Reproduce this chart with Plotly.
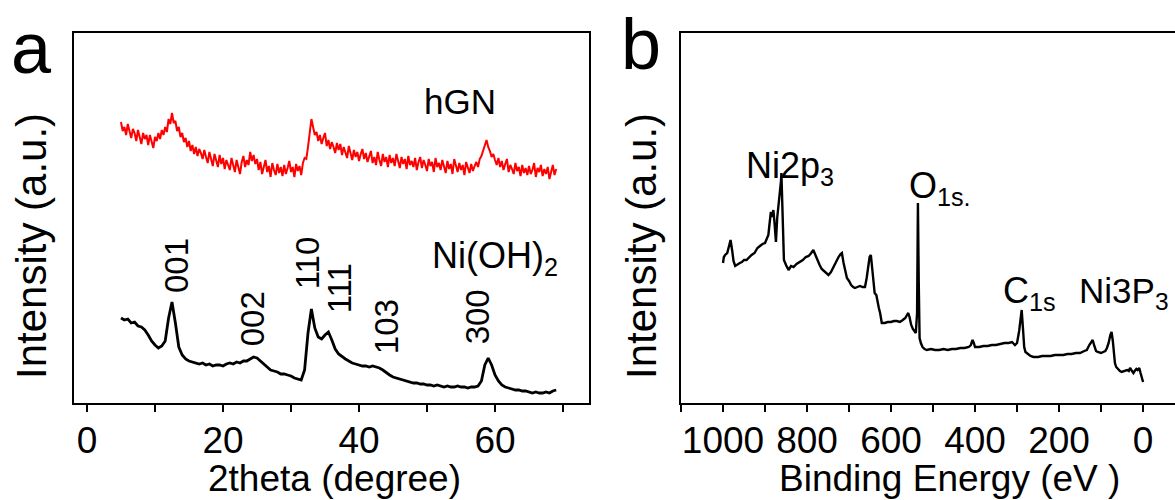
import plotly.graph_objects as go

# ---------------- Panel a: XRD ----------------
two_theta_ni = [5.0, 5.5, 6.0, 6.5, 7.0, 7.5, 8.0, 8.5, 9.0, 9.5, 10.0, 10.5, 11.0, 11.5, 12.0, 12.5,
                13.0, 13.5, 14.0, 14.5, 15.0, 15.5, 16.0, 16.5, 17.0, 17.5, 18.0, 18.5, 19.0, 19.5,
                20.0, 20.5, 21.0, 21.5, 22.0, 22.5, 23.0, 23.5, 24.0, 24.5, 25.0, 25.5, 26.0, 26.5,
                27.0, 27.5, 28.0, 28.5, 29.0, 29.5, 30.0, 30.5, 31.0, 31.5, 32.0, 32.5, 33.0, 33.5,
                34.0, 34.5, 35.0, 35.5, 36.0, 36.5, 37.0, 37.5, 38.0, 38.5, 39.0, 39.5, 40.0, 40.5,
                41.0, 41.5, 42.0, 42.5, 43.0, 43.5, 44.0, 44.5, 45.0, 45.5, 46.0, 46.5, 47.0, 47.5,
                48.0, 48.5, 49.0, 49.5, 50.0, 50.5, 51.0, 51.5, 52.0, 52.5, 53.0, 53.5, 54.0, 54.5,
                55.0, 55.5, 56.0, 56.5, 57.0, 57.5, 58.0, 58.5, 59.0, 59.5, 60.0, 60.5, 61.0, 61.5,
                62.0, 62.5, 63.0, 63.5, 64.0, 64.5, 65.0, 65.5, 66.0, 66.5, 67.0, 67.5, 68.0, 68.5, 69.0]

ni_oh2 = [85, 83, 84, 80, 81, 77, 76, 73, 68, 62, 58, 55, 57, 62, 85, 101,
          80, 56, 48, 44, 42, 41, 40, 39, 40, 38, 39, 37, 38, 38,
          37, 39, 40, 39, 41, 40, 42, 42, 44, 46, 45, 42, 38, 35,
          33, 32, 31, 29, 29, 28, 27, 25, 24, 23, 33, 70, 94, 75,
          66, 64, 68, 71, 63, 54, 49, 46, 44, 42, 40, 39, 38, 37,
          37, 36, 37, 36, 35, 33, 30, 28, 26, 25, 24, 23, 22, 21,
          20, 20, 19, 19, 18, 18, 17, 18, 17, 16, 17, 16, 16, 17,
          16, 16, 15, 16, 16, 17, 22, 38, 45, 38, 28, 22, 18, 16,
          15, 14, 13, 13, 12, 12, 11, 10, 11, 10, 10, 11, 10, 12, 13]

two_theta_hgn = [
    5.0, 5.25, 5.5, 5.75, 6.0, 6.25, 6.5, 6.75, 7.0, 7.25, 7.5, 7.75, 8.0, 8.25, 8.5, 8.75,
    9.0, 9.25, 9.5, 9.75, 10.0, 10.25, 10.5, 10.75, 11.0, 11.25, 11.5, 11.75, 12.0, 12.25, 12.5, 12.75,
    13.0, 13.25, 13.5, 13.75, 14.0, 14.25, 14.5, 14.75, 15.0, 15.25, 15.5, 15.75, 16.0, 16.25, 16.5, 16.75,
    17.0, 17.25, 17.5, 17.75, 18.0, 18.25, 18.5, 18.75, 19.0, 19.25, 19.5, 19.75, 20.0, 20.25, 20.5, 20.75,
    21.0, 21.25, 21.5, 21.75, 22.0, 22.25, 22.5, 22.75, 23.0, 23.25, 23.5, 23.75, 24.0, 24.25, 24.5, 24.75,
    25.0, 25.25, 25.5, 25.75, 26.0, 26.25, 26.5, 26.75, 27.0, 27.25, 27.5, 27.75, 28.0, 28.25, 28.5, 28.75,
    29.0, 29.25, 29.5, 29.75, 30.0, 30.25, 30.5, 30.75, 31.0, 31.25, 31.5, 31.75, 32.0, 32.25, 32.5, 32.75,
    33.0, 33.25, 33.5, 33.75, 34.0, 34.25, 34.5, 34.75, 35.0, 35.25, 35.5, 35.75, 36.0, 36.25, 36.5, 36.75,
    37.0, 37.25, 37.5, 37.75, 38.0, 38.25, 38.5, 38.75, 39.0, 39.25, 39.5, 39.75, 40.0, 40.25, 40.5, 40.75,
    41.0, 41.25, 41.5, 41.75, 42.0, 42.25, 42.5, 42.75, 43.0, 43.25, 43.5, 43.75, 44.0, 44.25, 44.5, 44.75,
    45.0, 45.25, 45.5, 45.75, 46.0, 46.25, 46.5, 46.75, 47.0, 47.25, 47.5, 47.75, 48.0, 48.25, 48.5, 48.75,
    49.0, 49.25, 49.5, 49.75, 50.0, 50.25, 50.5, 50.75, 51.0, 51.25, 51.5, 51.75, 52.0, 52.25, 52.5, 52.75,
    53.0, 53.25, 53.5, 53.75, 54.0, 54.25, 54.5, 54.75, 55.0, 55.25, 55.5, 55.75, 56.0, 56.25, 56.5, 56.75,
    57.0, 57.25, 57.5, 57.75, 58.0, 58.25, 58.5, 58.75, 59.0, 59.25, 59.5, 59.75, 60.0, 60.25, 60.5, 60.75,
    61.0, 61.25, 61.5, 61.75, 62.0, 62.25, 62.5, 62.75, 63.0, 63.25, 63.5, 63.75, 64.0, 64.25, 64.5, 64.75,
    65.0, 65.25, 65.5, 65.75, 66.0, 66.25, 66.5, 66.75, 67.0, 67.25, 67.5, 67.75, 68.0, 68.25, 68.5, 68.75,
    69.0]

hgn = [
    281, 272, 276, 268, 279, 271, 265, 274, 270, 262, 273, 266, 259, 270, 264, 268,
    258, 268, 261, 255, 266, 262, 270, 264, 273, 268, 276, 271, 284, 279, 290, 280,
    282, 272, 276, 266, 270, 261, 265, 256, 262, 252, 258, 249, 256, 247, 254, 250,
    244, 253, 246, 240, 251, 243, 237, 249, 241, 236, 248, 239, 245, 234, 243, 238,
    233, 245, 237, 231, 243, 236, 229, 241, 247, 236, 243, 238, 251, 242, 248, 239,
    244, 233, 241, 229, 238, 243, 231, 237, 226, 240, 233, 228, 239, 230, 236, 227,
    238, 229, 235, 242, 231, 236, 226, 239, 232, 237, 228, 240, 245, 244, 256, 272,
    284, 276, 268, 271, 262, 268, 259, 265, 270, 257, 263, 254, 261, 256, 250, 260,
    253, 259, 248, 256, 251, 245, 257, 249, 243, 253, 246, 251, 242, 249, 254, 244,
    250, 241, 247, 252, 240, 246, 238, 251, 243, 237, 249, 241, 246, 236, 248, 240,
    245, 237, 249, 240, 235, 246, 239, 244, 234, 247, 238, 242, 236, 245, 233, 241,
    246, 235, 243, 238, 232, 244, 237, 241, 231, 245, 236, 240, 233, 243, 236, 230,
    242, 234, 239, 229, 244, 236, 231, 240, 233, 238, 228, 241, 234, 230, 239, 232,
    237, 241, 236, 244, 247, 252, 258, 263, 256, 252, 246, 249, 243, 238, 245, 236,
    242, 233, 239, 244, 231, 238, 234, 229, 240, 232, 236, 227, 238, 230, 235, 228,
    237, 229, 233, 240, 226, 235, 231, 238, 227, 234, 229, 236, 224, 233, 238, 228,
    234]

peak_labels = ["001", "002", "110", "111", "103", "300"]
peak_label_x = [13.1, 24.3, 32.4, 37.1, 44.0, 57.4]
peak_label_y = [137, 84, 140, 115, 76, 86]

# ---------------- Panel b: XPS survey ----------------
binding_energy = [1000, 998, 995, 990, 985, 982, 978, 975, 971, 965, 960, 955, 950, 944, 938, 932,
                  925, 918, 912, 906, 900, 896, 892, 889, 886, 883, 880, 877, 874, 871, 868, 865,
                  862, 861, 859, 857, 855, 850, 844, 838, 832, 825, 817, 810, 803, 796, 790, 785,
                  780, 775, 770, 765, 760, 755, 749, 743, 737, 732, 729, 725, 720, 717, 713, 709,
                  705, 700, 695, 690, 686, 680, 674, 668, 662, 658, 654, 651, 648, 645, 642, 639,
                  635, 632, 629, 626, 624, 622, 615, 608, 600, 593, 586, 579, 572, 566, 562, 559,
                  556, 552, 548, 545, 541, 538, 536, 534, 532, 529, 525, 520, 515, 505, 495, 485,
                  475, 465, 455, 445, 435, 425, 415, 410, 406, 403, 400, 390, 380, 370, 360, 350,
                  340, 330, 320, 312, 305, 300, 295, 291, 289, 286, 283, 280, 275, 268, 261, 250,
                  240, 230, 220, 210, 200, 190, 180, 170, 160, 150, 140, 134, 128, 123, 120, 116,
                  112, 108, 100, 95, 90, 86, 82, 78, 75, 72, 69, 67, 64, 60, 55, 51,
                  46, 42, 38, 34, 31, 28, 25, 23, 20, 16, 13, 9, 6, 3, 0]

xps_intensity = [140, 146, 148, 150, 158, 163, 152, 142, 137, 139, 140, 141, 143, 143, 146, 148,
                 150, 155, 157, 159, 160, 165, 168, 180, 191, 186, 193, 178, 161, 185, 196, 205,
                 222, 230, 190, 150, 143, 138, 133, 137, 136, 139, 141, 143, 146, 147, 150, 153,
                 148, 142, 138, 134, 132, 130, 128, 131, 136, 141, 143, 146, 149, 150, 140, 131,
                 125, 122, 118, 116, 115, 116, 117, 116, 116, 125, 138, 146, 148, 135, 118, 110,
                 108, 100, 95, 90, 84, 80, 80, 81, 81, 82, 82, 81, 83, 85, 88, 90,
                 86, 78, 74, 72, 70, 90, 200, 120, 65, 60, 56, 54, 53, 54, 53, 53,
                 54, 53, 54, 54, 55, 55, 56, 58, 63, 60, 56, 56, 57, 57, 58, 58,
                 59, 60, 60, 61, 58, 60, 72, 90, 93, 75, 56, 51, 49, 47, 46, 46,
                 47, 47, 47, 48, 48, 48, 49, 49, 50, 50, 52, 53, 58, 62, 63, 57,
                 52, 51, 50, 51, 52, 55, 60, 68, 71, 62, 48, 40, 36, 34, 32, 31,
                 32, 33, 33, 32, 35, 33, 31, 30, 32, 34, 33, 35, 30, 25, 21]

FONT = "Liberation Sans, Arial, sans-serif"
W, H = 1175, 500


def px(x):
    return x / W


def py(y):
    return 1 - y / H


fig = go.Figure()
fig.add_trace(go.Scatter(x=two_theta_ni, y=ni_oh2, mode="lines", xaxis="x", yaxis="y",
                         line=dict(color="black", width=2.8)))
fig.add_trace(go.Scatter(x=two_theta_hgn, y=hgn, mode="lines", xaxis="x", yaxis="y",
                         line=dict(color="#ff0000", width=2.0)))
fig.add_trace(go.Scatter(x=binding_energy, y=xps_intensity, mode="lines", xaxis="x2", yaxis="y2",
                         line=dict(color="black", width=2.4)))

ydom = [py(403), py(33)]
axis_common = dict(showline=True, linecolor="black", linewidth=2, showgrid=False, zeroline=False,
                   ticks="outside", ticklen=7, tickwidth=2, tickcolor="black",
                   ticklabelstandoff=-3,
                   tickfont=dict(family=FONT, size=37, color="black"))

fig.update_layout(
    width=W, height=H, margin=dict(l=0, r=0, t=0, b=0),
    paper_bgcolor="white", plot_bgcolor="white", showlegend=False,
    xaxis=dict(domain=[px(74), px(589)], range=[-1.91, 73.82], anchor="y", mirror=True,
               tick0=0, dtick=20,
               minor=dict(dtick=10, ticks="outside", ticklen=7, tickwidth=2, tickcolor="black"),
               **axis_common),
    yaxis=dict(domain=ydom, range=[0, 370], anchor="x", showline=True, linecolor="black",
               linewidth=2, mirror=True, showticklabels=False, ticks="", showgrid=False,
               zeroline=False),
    xaxis2=dict(domain=[px(681), 1.0], range=[1100, -76], anchor="y2", mirror=True,
                tick0=0, dtick=200,
                minor=dict(dtick=100, ticks="outside", ticklen=7, tickwidth=2, tickcolor="black"),
                **axis_common),
    yaxis2=dict(domain=ydom, range=[0, 370], anchor="x2", showline=True, linecolor="black",
                linewidth=2, mirror=False, showticklabels=False, ticks="", showgrid=False,
                zeroline=False),
)

ann = []


def paper_text(text, x, y, size, angle=0):
    ann.append(dict(text=text, x=px(x), y=py(y), xref="paper", yref="paper", showarrow=False,
                    xanchor="center", yanchor="middle", textangle=angle,
                    font=dict(family=FONT, size=size, color="black")))


# panel letters
paper_text("a", 31, 48, 72)
paper_text("b", 641, 44, 72)
# axis titles
paper_text("Intensity (a.u.)", 31, 246, 42, -90)
paper_text("Intensity (a.u.)", 641, 246, 42, -90)
paper_text("2theta (degree)", 334, 478, 37)
paper_text("Binding Energy (eV )", 950, 478, 37)

# panel a labels
paper_text("hGN", 460, 102, 35)
paper_text("Ni(OH)<sub>2</sub>", 495, 258, 36)
for lab, lx, ly in zip(peak_labels, peak_label_x, peak_label_y):
    ann.append(dict(text=lab, x=lx, y=ly, xref="x", yref="y", showarrow=False,
                    xanchor="center", yanchor="middle", textangle=-90,
                    font=dict(family=FONT, size=33, color="black")))

# panel b labels
paper_text("Ni2p<sub>3</sub>", 790, 168, 36)
paper_text("O<sub>1s.</sub>", 940, 188, 36)
paper_text("C<sub>1s</sub>", 1029, 293, 36)
paper_text("Ni3P<sub>3</sub>", 1124, 293, 35)

fig.update_layout(annotations=ann)
fig.write_html("out.html")
